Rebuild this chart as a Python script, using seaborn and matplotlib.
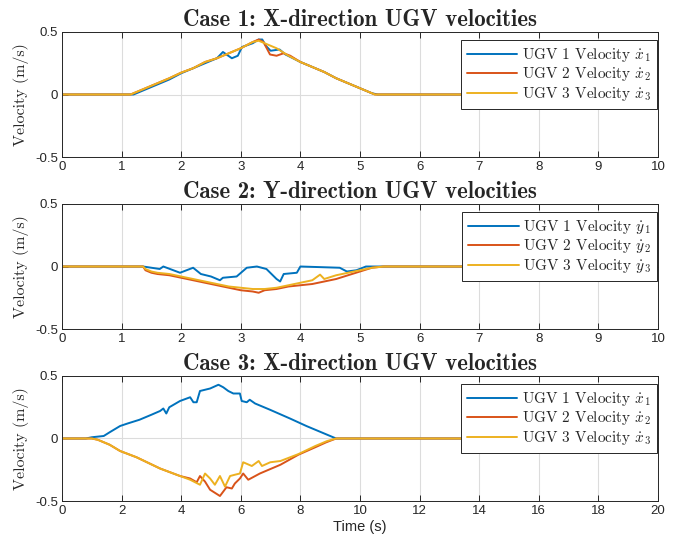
import matplotlib
matplotlib.use("Agg")
import matplotlib.pyplot as plt
import seaborn as sns
import pandas as pd

# ---------------- data ----------------
colors = ["#0072BD", "#D95319", "#EDB120"]

# Case 1: X-direction (0..10 s)
c1_t_u1 = [0, 1.2, 1.3, 1.4, 1.6, 1.8, 2.0, 2.2, 2.4, 2.6, 2.7, 2.85, 2.95, 3.02, 3.2, 3.3, 3.36, 3.42, 3.5, 3.65, 3.75, 4.0, 4.2, 4.4, 4.6, 4.8, 5.0, 5.2, 5.3, 10]
c1_v_u1 = [0, 0, 0.02, 0.04, 0.08, 0.12, 0.17, 0.21, 0.25, 0.29, 0.34, 0.29, 0.31, 0.38, 0.41, 0.44, 0.44, 0.39, 0.35, 0.36, 0.32, 0.26, 0.22, 0.18, 0.13, 0.09, 0.05, 0.01, 0, 0]
c1_t_u2 = [0, 1.15, 1.2, 1.4, 1.6, 1.8, 2.0, 2.2, 2.4, 2.6, 2.8, 3.0, 3.2, 3.3, 3.38, 3.49, 3.6, 3.72, 3.83, 4.0, 4.2, 4.4, 4.6, 4.8, 5.0, 5.2, 5.25, 10]
c1_v_u2 = [0, 0, 0.01, 0.05, 0.09, 0.13, 0.175, 0.21, 0.26, 0.29, 0.33, 0.37, 0.42, 0.44, 0.42, 0.32, 0.31, 0.33, 0.31, 0.26, 0.22, 0.18, 0.13, 0.09, 0.05, 0.01, 0, 0]
c1_t_u3 = [0, 1.15, 1.2, 1.4, 1.6, 1.8, 2.0, 2.2, 2.4, 2.6, 2.8, 3.0, 3.2, 3.3, 3.4, 3.5, 3.6, 3.7, 3.8, 4.0, 4.2, 4.4, 4.6, 4.8, 5.0, 5.2, 5.25, 10]
c1_v_u3 = [0, 0, 0.01, 0.05, 0.09, 0.13, 0.175, 0.21, 0.26, 0.29, 0.33, 0.37, 0.42, 0.43, 0.41, 0.39, 0.37, 0.34, 0.31, 0.26, 0.22, 0.18, 0.13, 0.09, 0.05, 0.01, 0, 0]

# Case 2: Y-direction (0..10 s)
c2_t_u1 = [0, 1.36, 1.5, 1.64, 1.7, 1.98, 2.2, 2.33, 2.5, 2.65, 2.7, 2.93, 3.1, 3.27, 3.43, 3.6, 3.66, 3.72, 3.94, 4.0, 4.66, 4.78, 4.94, 5.1, 10]
c2_v_u1 = [0, 0, -0.01, -0.02, 0.0, -0.05, -0.01, -0.06, -0.08, -0.11, -0.09, -0.08, -0.01, 0.0, -0.02, -0.10, -0.12, -0.06, -0.05, 0.0, -0.01, -0.04, -0.03, 0, 0]
c2_t_u2 = [0, 1.36, 1.4, 1.5, 1.6, 1.8, 2.0, 2.2, 2.4, 2.6, 2.8, 3.0, 3.2, 3.3, 3.4, 3.6, 3.8, 4.0, 4.2, 4.4, 4.6, 4.8, 5.0, 5.2, 5.4, 10]
c2_v_u2 = [0, 0, -0.03, -0.05, -0.06, -0.07, -0.09, -0.11, -0.13, -0.15, -0.17, -0.19, -0.20, -0.21, -0.19, -0.18, -0.16, -0.15, -0.14, -0.12, -0.10, -0.07, -0.04, -0.01, 0, 0]
c2_t_u3 = [0, 1.36, 1.4, 1.5, 1.6, 1.8, 2.0, 2.2, 2.4, 2.6, 2.8, 3.0, 3.2, 3.4, 3.6, 3.8, 4.0, 4.2, 4.33, 4.4, 4.6, 4.8, 5.0, 5.2, 5.4, 10]
c2_v_u3 = [0, 0, -0.02, -0.04, -0.05, -0.06, -0.08, -0.10, -0.12, -0.14, -0.16, -0.17, -0.18, -0.18, -0.17, -0.15, -0.13, -0.11, -0.065, -0.10, -0.07, -0.05, -0.03, -0.01, 0, 0]

# Case 3: X-direction (0..20 s)
c3_t_u1 = [0, 0.8, 1.0, 1.4, 1.6, 1.95, 2.2, 2.6, 3.0, 3.29, 3.4, 3.5, 3.6, 3.96, 4.3, 4.41, 4.52, 4.63, 4.97, 5.25, 5.41, 5.58, 5.75, 5.97, 6.03, 6.2, 6.3, 6.48, 6.98, 7.65, 8.2, 8.7, 9.2, 20]
c3_v_u1 = [0, 0, 0.01, 0.02, 0.05, 0.10, 0.12, 0.15, 0.19, 0.22, 0.24, 0.20, 0.25, 0.30, 0.33, 0.29, 0.29, 0.38, 0.40, 0.43, 0.41, 0.38, 0.36, 0.36, 0.30, 0.29, 0.31, 0.28, 0.23, 0.16, 0.10, 0.05, 0.0, 0]
c3_t_u2 = [0, 1.0, 1.2, 1.6, 1.95, 2.5, 3.29, 3.96, 4.3, 4.52, 4.63, 4.8, 4.97, 5.3, 5.52, 5.7, 5.8, 5.97, 6.08, 6.25, 6.64, 7.33, 7.93, 8.5, 8.87, 9.2, 20]
c3_v_u2 = [0, 0, -0.01, -0.05, -0.10, -0.15, -0.24, -0.30, -0.32, -0.35, -0.30, -0.345, -0.41, -0.46, -0.39, -0.40, -0.36, -0.32, -0.28, -0.33, -0.28, -0.21, -0.13, -0.07, -0.03, 0, 0]
c3_t_u3 = [0, 1.0, 1.2, 1.6, 1.95, 2.5, 3.29, 3.96, 4.3, 4.63, 4.8, 4.97, 5.13, 5.3, 5.47, 5.64, 5.8, 5.97, 6.08, 6.37, 6.6, 6.71, 6.99, 7.33, 7.93, 8.5, 8.9, 9.2, 20]
c3_v_u3 = [0, 0, -0.01, -0.05, -0.10, -0.15, -0.24, -0.30, -0.33, -0.37, -0.28, -0.32, -0.37, -0.30, -0.385, -0.30, -0.29, -0.28, -0.19, -0.22, -0.18, -0.22, -0.19, -0.18, -0.125, -0.06, -0.02, 0, 0]

titles = ["Case 1: X-direction UGV velocities",
          "Case 2: Y-direction UGV velocities",
          "Case 3: X-direction UGV velocities"]
labels_x = [r"UGV 1 Velocity $\dot{x}_1$", r"UGV 2 Velocity $\dot{x}_2$", r"UGV 3 Velocity $\dot{x}_3$"]
labels_y = [r"UGV 1 Velocity $\dot{y}_1$", r"UGV 2 Velocity $\dot{y}_2$", r"UGV 3 Velocity $\dot{y}_3$"]
yticks = [-0.5, 0, 0.5]
ytick_labels = ["-0.5", "0", "0.5"]
xticks_10 = list(range(0, 11))
xticks_20 = list(range(0, 21, 2))

# ---------------- style ----------------
sns.set_style("white")
plt.rcParams["mathtext.fontset"] = "cm"
plt.rcParams["font.family"] = ["Liberation Sans", "DejaVu Sans"]

fig = plt.figure(figsize=(6.83, 5.41), dpi=100)
L, W = 62 / 683, 596 / 683
H = 125 / 541
bottoms = [1 - 157 / 541, 1 - 329 / 541, 1 - 501 / 541]

panels = [
    ([(c1_t_u1, c1_v_u1), (c1_t_u2, c1_v_u2), (c1_t_u3, c1_v_u3)], labels_x, xticks_10, 10),
    ([(c2_t_u1, c2_v_u1), (c2_t_u2, c2_v_u2), (c2_t_u3, c2_v_u3)], labels_y, xticks_10, 10),
    ([(c3_t_u1, c3_v_u1), (c3_t_u2, c3_v_u2), (c3_t_u3, c3_v_u3)], labels_x, xticks_20, 20),
]

for i, (series, labs, xt, xmax) in enumerate(panels):
    ax = fig.add_axes([L, bottoms[i], W, H])
    for (t, v), lab, c in zip(series, labs, colors):
        df = pd.DataFrame({"t": t, "v": v})
        sns.lineplot(data=df, x="t", y="v", ax=ax, color=c, label=lab,
                     linewidth=1.4, estimator=None, sort=False)
    ax.set_xlim(0, xmax)
    ax.set_ylim(-0.5, 0.5)
    ax.set_xticks(xt)
    ax.set_xticklabels([str(x) for x in xt])
    ax.set_yticks(yticks)
    ax.set_yticklabels(ytick_labels)
    ax.grid(True, color="#dcdcdc", linewidth=0.8)
    ax.set_axisbelow(True)
    for s in ax.spines.values():
        s.set_color("#262626")
        s.set_linewidth(0.7)
        s.set_visible(True)
    ax.tick_params(direction="in", length=4, width=0.7, color="#262626",
                   labelsize=9.5, labelcolor="#262626",
                   top=True, right=True, bottom=True, left=True, pad=3)
    ax.set_xlabel("")
    ax.set_ylabel("Velocity (m/s)", family="cmr10", fontsize=11.5, labelpad=4)
    ax.set_title(titles[i], family="cmb10", fontsize=16.5, pad=4)
    leg = ax.legend(loc="upper right", bbox_to_anchor=(1.0, 1 - 7 / 125),
                    prop={"family": "cmr10", "size": 11},
                    frameon=True, fancybox=False, edgecolor="#262626",
                    framealpha=1, handlelength=3.3, borderpad=0.4,
                    labelspacing=0.1, borderaxespad=0.05, handletextpad=0.3)
    leg.get_frame().set_linewidth(0.7)
    if i == 2:
        ax.set_xlabel("Time (s)", fontsize=10.5, color="#262626", labelpad=2)

fig.savefig("out.png", dpi=100)
